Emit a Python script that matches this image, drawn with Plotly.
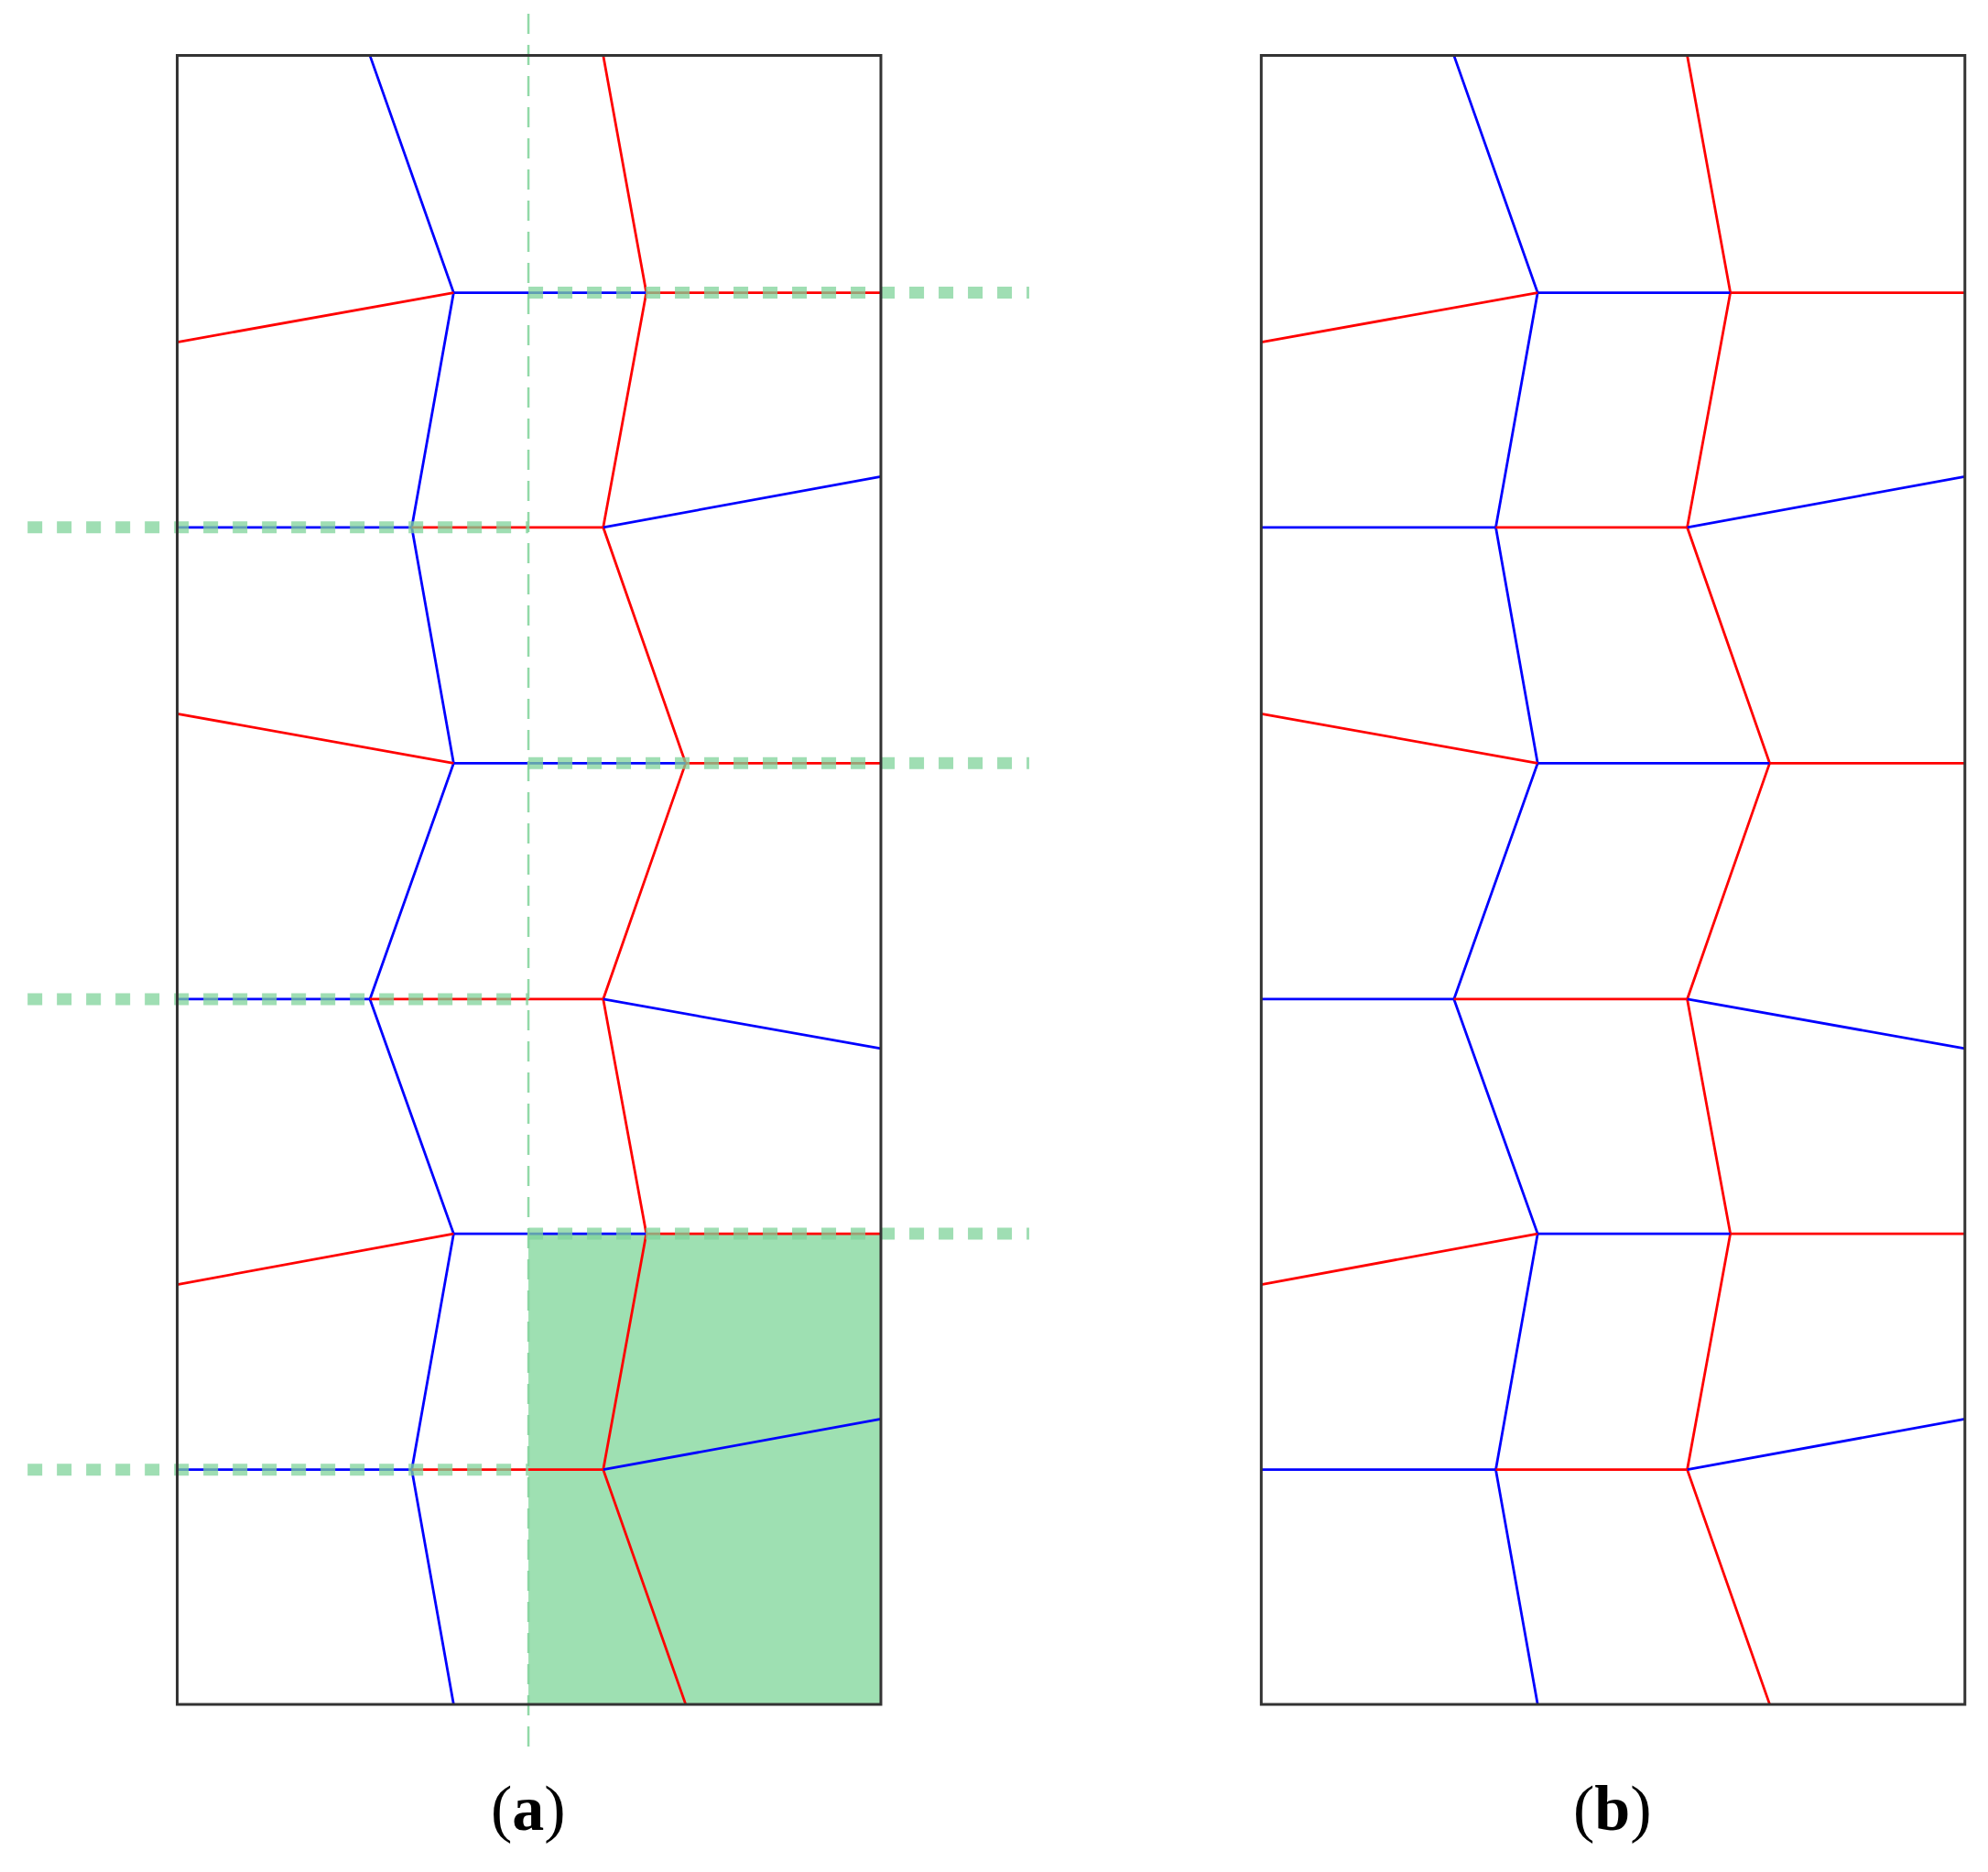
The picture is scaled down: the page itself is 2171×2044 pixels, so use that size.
import plotly.graph_objects as go

# diagram coordinates (reference pixel space, y downward), panel (a); panel (b) is shifted
box_x = [140, 695]
box_y = [43, 1343]
shift_b = 855
levels = [230, 415, 601, 787, 972, 1158]

blue_zig_x = [292, 358, 325, 358, 292, 358, 325, 358]
red_zig_x = [476, 510, 476, 541, 476, 510, 476, 541]
zig_y = [43, 230, 415, 601, 787, 972, 1158, 1343]

# extra segments: (x0, y0, x1, y1, colour)
segments = [
    (358, 230, 510, 230, 'blue'), (510, 230, 695, 230, 'red'), (140, 269, 358, 230, 'red'),
    (140, 415, 325, 415, 'blue'), (325, 415, 476, 415, 'red'), (476, 415, 695, 375, 'blue'),
    (140, 562, 358, 601, 'red'), (358, 601, 541, 601, 'blue'), (541, 601, 695, 601, 'red'),
    (140, 787, 292, 787, 'blue'), (292, 787, 476, 787, 'red'), (476, 787, 695, 826, 'blue'),
    (140, 1012, 358, 972, 'red'), (358, 972, 510, 972, 'blue'), (510, 972, 695, 972, 'red'),
    (140, 1158, 325, 1158, 'blue'), (325, 1158, 476, 1158, 'red'), (476, 1158, 695, 1118, 'blue'),
]

green_fill = [417, 972, 695, 1343]
green_vline_x = 417
green_vline_y = [10, 1380]
green_dots = [(417, 812, 230), (22, 417, 415), (417, 812, 601),
              (22, 417, 787), (417, 812, 972), (22, 417, 1158)]

labels = ['(<b>a</b>)', '(<b>b</b>)']
label_x = [417, 1272]

fig = go.Figure()

fig.add_shape(type='rect', x0=green_fill[0], y0=green_fill[1], x1=green_fill[2], y1=green_fill[3],
              fillcolor='#9ee0b2', line_width=0, layer='below')


def add_panel(dx):
    for colour, zx in (('blue', blue_zig_x), ('red', red_zig_x)):
        fig.add_trace(go.Scatter(x=[v + dx for v in zx], y=zig_y, mode='lines',
                                 line=dict(color=colour, width=2.8), hoverinfo='skip'))
    for colour in ('blue', 'red'):
        xs, ys = [], []
        for x0, y0, x1, y1, c in segments:
            if c == colour:
                xs += [x0 + dx, x1 + dx, None]
                ys += [y0, y1, None]
        fig.add_trace(go.Scatter(x=xs, y=ys, mode='lines',
                                 line=dict(color=colour, width=2.8), hoverinfo='skip'))
    fig.add_shape(type='rect', x0=box_x[0] + dx, x1=box_x[1] + dx, y0=box_y[0], y1=box_y[1],
                  line=dict(color='#333333', width=3))


add_panel(0)
add_panel(shift_b)

# green guide lines in panel (a)
fig.add_trace(go.Scatter(x=[green_vline_x, green_vline_x], y=green_vline_y, mode='lines',
                         line=dict(color='#7fd39a', width=2.5, dash='22px,12px'),
                         opacity=0.85, hoverinfo='skip'))
gx, gy = [], []
for x0, x1, y in green_dots:
    gx += [x0, x1, None]
    gy += [y, y, None]
fig.add_trace(go.Scatter(x=gx, y=gy, mode='lines',
                         line=dict(color='#7fd39a', width=13, dash='16px,16px'),
                         opacity=0.75, hoverinfo='skip'))

for t, x in zip(labels, label_x):
    fig.add_annotation(x=x, y=1425, text=t, showarrow=False,
                       font=dict(family='Liberation Serif', size=70, color='black'))

# ranges nudged to offset the page's default body margin
fig.update_xaxes(range=[6, 1574], visible=False)
fig.update_yaxes(range=[1481, 5], visible=False)
fig.update_layout(width=2171, height=2044, margin=dict(l=0, r=0, t=0, b=0),
                  plot_bgcolor='white', paper_bgcolor='white', showlegend=False)
fig.write_html("out.html")
